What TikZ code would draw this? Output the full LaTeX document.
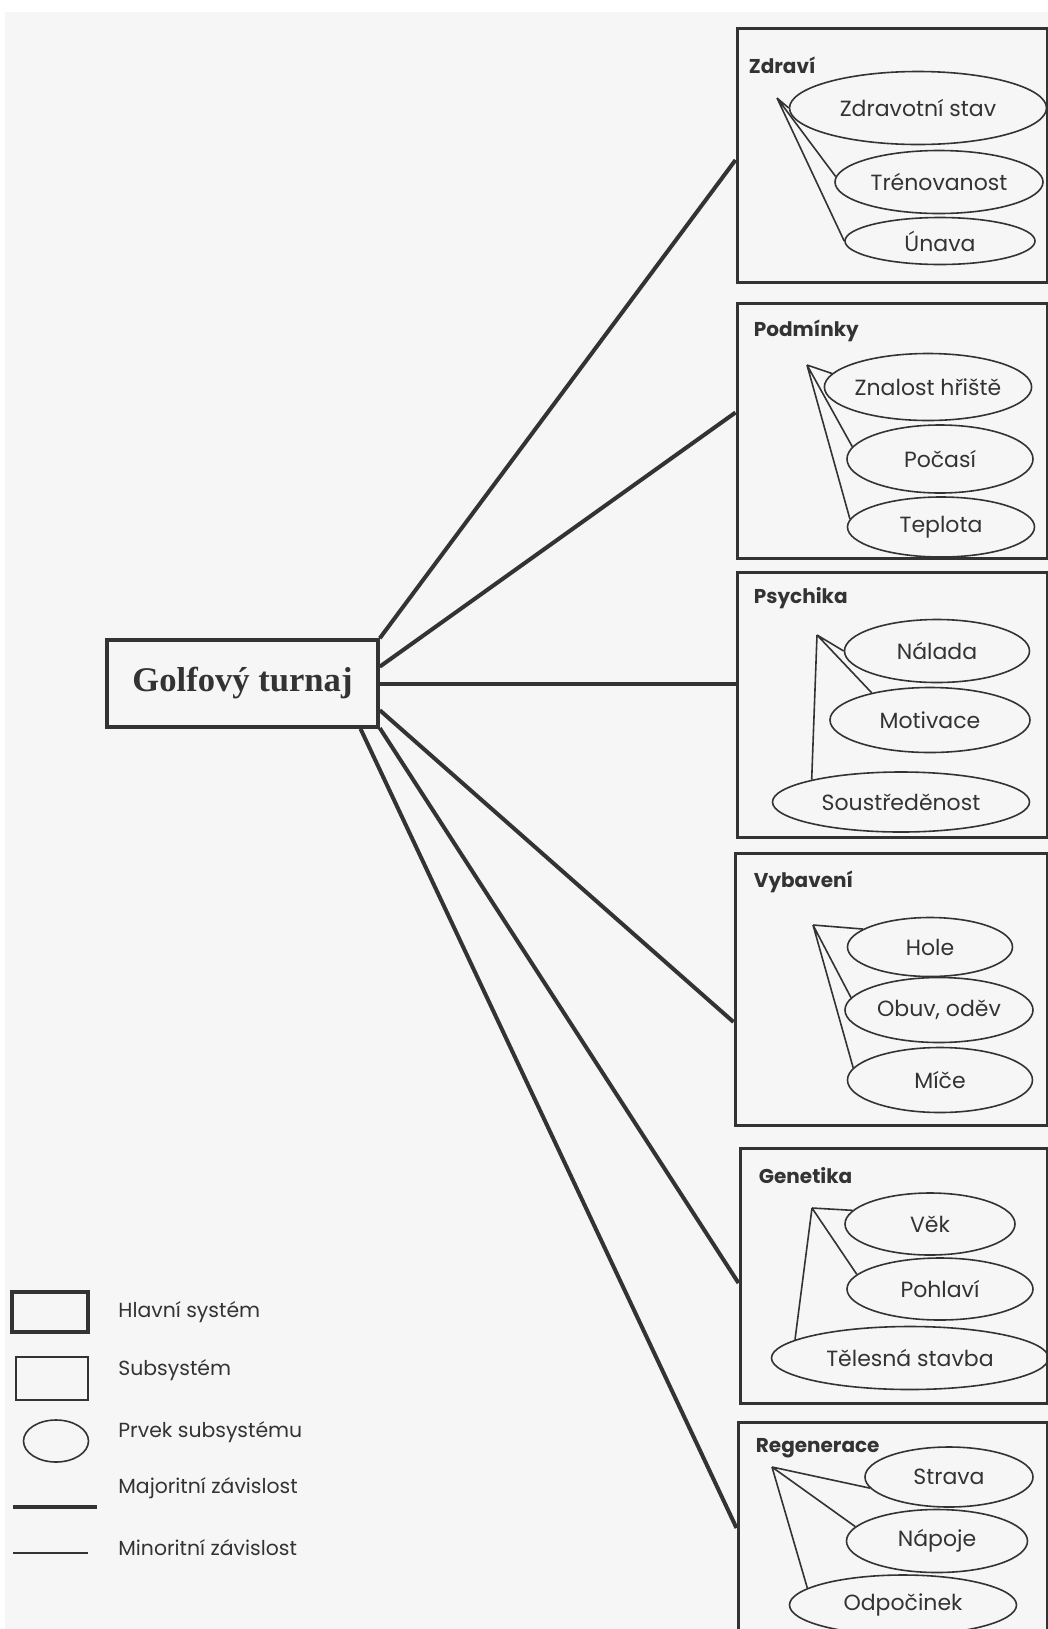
\documentclass[tikz,border=0pt]{standalone}
\usepackage{fontspec}
\setmainfont{Poppins}
\newfontfamily\golffont{Liberation Serif}
\usetikzlibrary{shapes.geometric, calc}
\definecolor{ink}{gray}{0.2}
\definecolor{paper}{gray}{0.965}
\tikzset{
    mainbox/.style={draw=ink, line width=1.8pt, minimum width=135.5pt, minimum height=43.5pt, inner sep=0pt,
        font=\golffont\bfseries\fontsize{17.3}{19}\selectfont},
    subbox/.style={draw=ink, line width=1.5pt, minimum width=155pt, inner sep=0pt},
    prvek/.style={draw=ink, ellipse, line width=0.8pt, inner sep=0pt, font=\fontsize{11}{13}\selectfont},
    sublabel/.style={anchor=west, inner sep=0pt, font=\bfseries\fontsize{10}{12}\selectfont},
    legtext/.style={anchor=west, inner sep=0pt, font=\fontsize{10.2}{12}\selectfont},
    major/.style={draw=ink, line width=2pt},
    minor/.style={draw=ink, line width=0.8pt},
}
\begin{document}
\begin{tikzpicture}[x=0.5pt, y=-0.5pt, text=ink]
    \clip (0,0) rectangle (1048,1629);
    \fill[paper] (5,12) rectangle (1048,1629);

    % hlavni system
    \node[mainbox] (golf) at (242.5,683.5) {Golfový turnaj};

    % subsystemy
    \node[subbox, minimum height=127pt]  (zdr)   at (892,155)    {};
    \node[subbox, minimum height=127.5pt] (podm) at (892,430.5)  {};
    \node[subbox, minimum height=132.5pt] (psych) at (892,704.5) {};
    \node[subbox, minimum width=156pt, minimum height=136pt] (vyb) at (891,989) {};
    \node[subbox, minimum width=153.5pt, minimum height=127.5pt] (gen) at (893.5,1275.5) {};
    \node[subbox, minimum width=154.5pt, minimum height=139pt] (regen) at (892.5,1561) {};

    \node[sublabel] (lzdr)   at ($(zdr.north west)+(13,39)$)   {Zdraví};
    \node[sublabel] (lpodm)  at ($(podm.north west)+(18,29)$)  {Podmínky};
    \node[sublabel] (lpsych) at ($(psych.north west)+(18,28)$) {Psychika};
    \node[sublabel] (lvyb)   at ($(vyb.north west)+(20,30)$)   {Vybavení};
    \node[sublabel] (lgen)   at ($(gen.north west)+(20,29)$)   {Genetika};
    \node[sublabel] (lregen) at ($(regen.north west)+(19,28)$) {Regenerace};

    % prvky subsystemu
    \node[prvek, minimum width=128.5pt, minimum height=36.5pt] (zs)  at (918,108)  {Zdravotní stav};
    \node[prvek, minimum width=104pt,   minimum height=31.5pt] (tr)  at (939,182)  {Trénovanost};
    \node[prvek, minimum width=95pt,    minimum height=23.5pt] (un)  at (940,241)  {Únava};
    \node[prvek, minimum width=91.5pt,  minimum height=33.5pt] (zh)  at (928,387)  {Znalost hřiště};
    \node[prvek, minimum width=93pt,    minimum height=34pt]   (po)  at (940,459)  {Počasí};
    \node[prvek, minimum width=93.5pt,  minimum height=30pt]   (te)  at (941,527)  {Teplota};
    \node[prvek, minimum width=92.5pt,  minimum height=31.5pt] (na)  at (937,651)  {Nálada};
    \node[prvek, minimum width=100pt,   minimum height=32.5pt] (mo)  at (930,720)  {Motivace};
    \node[prvek, minimum width=128.5pt, minimum height=30pt]   (so)  at (901,802)  {Soustředěnost};
    \node[prvek, minimum width=82.5pt,  minimum height=29.5pt] (ho)  at (930,947)  {Hole};
    \node[prvek, minimum width=94pt,    minimum height=32.5pt] (ob)  at (939,1010) {Obuv, oděv};
    \node[prvek, minimum width=92.5pt,  minimum height=32.5pt] (mi)  at (940,1080) {Míče};
    \node[prvek, minimum width=85pt,    minimum height=31pt]   (ve)  at (930,1224) {Věk};
    \node[prvek, minimum width=93pt,    minimum height=31pt]   (ph)  at (940,1289) {Pohlaví};
    \node[prvek, minimum width=138.5pt, minimum height=31.5pt] (ts)  at (910,1358) {Tělesná stavba};
    \node[prvek, minimum width=84pt,    minimum height=30pt]   (st)  at (949,1477) {Strava};
    \node[prvek, minimum width=90.5pt,  minimum height=31.5pt] (np)  at (937,1541) {Nápoje};
    \node[prvek, minimum width=113.5pt, minimum height=30pt]   (od)  at (903,1605) {Odpočinek};

    % uzly vetveni
    \coordinate (hzdr)   at (777,98);
    \coordinate (hpodm)  at (807,365);
    \coordinate (hpsych) at (817,635);
    \coordinate (hvyb)   at (813,925);
    \coordinate (hgen)   at (812,1208);
    \coordinate (hregen) at (772,1467);

    % majoritni zavislosti
    \draw[major] (golf.north east) -- ($(zdr.west)+(0,5)$);
    \draw[major] (golf.7)     -- ($(podm.west)+(0,-18)$);
    \draw[major] (golf.east)  -- ($(psych.west)+(0,-21)$);
    \draw[major] (golf.-11)   -- ($(vyb.west)+(0,33)$);
    \draw[major] (golf.-18.6) -- ($(gen.west)+(0,7.5)$);
    \draw[major] (golf.-21.5) -- ($(regen.west)+(0,-33)$);

    % minoritni zavislosti
    \draw[minor] (hzdr) -- (zs.west) (hzdr) -- (tr.177) (hzdr) -- (un.west);
    \draw[minor] (hpodm) -- (zh.172) (hpodm) -- (po.172) (hpodm) -- (te.175);
    \draw[minor] (hpsych) -- (na.west) (hpsych) -- (mo.155) (hpsych) -- (so.166);
    \draw[minor] (hvyb) -- (ho.165) (hvyb) -- (ob.172) (hvyb) -- (mi.172);
    \draw[minor] (hgen) -- (ve.170) (hgen) -- (ph.170) (hgen) -- (ts.171);
    \draw[minor] (hregen) -- (st.188) (hregen) -- (np.170) (hregen) -- (od.170);

    % legenda
    \node[draw=ink, line width=2pt, minimum width=38pt, minimum height=20pt] (leghl) at (50,1312) {};
    \node[draw=ink, line width=1.2pt, minimum width=36pt, minimum height=21.5pt] (legsub) at (52,1378.5) {};
    \node[draw=ink, ellipse, line width=0.8pt, minimum width=32.5pt, minimum height=21pt] (legpr) at (56,1441) {};
    \coordinate (majA) at (13,1507);
    \coordinate (majB) at (97,1507);
    \coordinate (minA) at (13,1553);
    \coordinate (minB) at (88,1553);
    \draw[major] (majA) -- (majB);
    \draw[minor] (minA) -- (minB);
    \node[legtext] (thl)  at (118,1312) {Hlavní systém};
    \node[legtext] (tsub) at (118,1370) {Subsystém};
    \node[legtext] (tpr)  at (118,1432) {Prvek subsystému};
    \node[legtext] (tmaj) at (118,1488) {Majoritní závislost};
    \node[legtext] (tmin) at (118,1548) {Minoritní závislost};
\end{tikzpicture}
\end{document}
